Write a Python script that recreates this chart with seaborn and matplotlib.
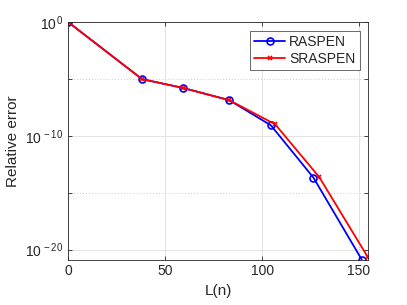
import numpy as np
import pandas as pd
import seaborn as sns
import matplotlib
matplotlib.use("Agg")
import matplotlib.pyplot as plt
from matplotlib.ticker import FixedLocator, FuncFormatter

# values (log10 of relative error)
L_raspen = [0, 38, 59, 83, 104.5, 126.5, 151.4]
err_raspen = [10**0, 10**-5.0, 10**-5.77, 10**-6.85, 10**-9.06, 10**-13.67, 10**-20.87]
L_sraspen = [0, 38, 59, 83, 106.7, 129.4, 154.6]
err_sraspen = [10**0, 10**-5.0, 10**-5.77, 10**-6.85, 10**-8.97, 10**-13.6, 10**-20.67]
x_ticks = [0, 50, 100, 150]
y_major = [1e-20, 1e-10, 1e0]
y_minor = [1e-15, 1e-5]

sns.set_style("ticks")
plt.rcParams["font.family"] = ["Liberation Sans", "DejaVu Sans"]
plt.rcParams["mathtext.fontset"] = "custom"
plt.rcParams["mathtext.rm"] = "Liberation Sans"
plt.rcParams["mathtext.it"] = "Liberation Sans"

df_r = pd.DataFrame({"L": L_raspen, "err": err_raspen})
df_s = pd.DataFrame({"L": L_sraspen, "err": err_sraspen})

fig = plt.figure(figsize=(4.07, 3.05), dpi=100)
ax = fig.add_axes([0.168, 0.149, 0.736, 0.778])

sns.lineplot(data=df_r, x="L", y="err", ax=ax, color="#0000ff", lw=1.3,
             marker="o", markersize=5, markerfacecolor="none",
             markeredgecolor="#0000ff", markeredgewidth=1.2, label="RASPEN",
             sort=False)
sns.lineplot(data=df_s, x="L", y="err", ax=ax, color="#ff0000", lw=1.3,
             marker="x", markersize=3.5, markeredgecolor="#ff0000",
             markeredgewidth=1.2, label="SRASPEN", sort=False)

ax.set_yscale("log")
ax.set_xlim(0, max(L_sraspen))
ax.set_ylim(min(err_raspen), max(err_raspen))

ax.xaxis.set_major_locator(FixedLocator(x_ticks))
ax.yaxis.set_major_locator(FixedLocator(y_major))
ax.yaxis.set_minor_locator(FixedLocator(y_minor))
ax.yaxis.set_major_formatter(FuncFormatter(
    lambda v, p: r"$10^{\,%d}$" % int(round(np.log10(v)))))
ax.yaxis.set_minor_formatter(FuncFormatter(lambda v, p: ""))

ax.grid(True, which="major", color="#e3e3e3", lw=0.7, ls="-")
ax.grid(True, which="minor", axis="y", color="#cccccc", lw=0.7, ls=(0, (1, 2)))
ax.set_axisbelow(True)

for s in ax.spines.values():
    s.set_visible(True)
    s.set_color("#262626")
    s.set_linewidth(0.6)
ax.tick_params(which="both", direction="in", top=True, right=True,
               length=3, width=0.6, color="#262626", labelsize=10,
               labelcolor="#262626")

ax.set_xlabel("L(n)", fontsize=11, color="#262626")
ax.set_ylabel("Relative error", fontsize=11, color="#262626")

leg = ax.legend(loc="upper right", fontsize=10, frameon=True, fancybox=False,
                edgecolor="#262626", borderpad=0.3, handlelength=2.2,
                handletextpad=0.3, labelspacing=0.2, borderaxespad=0.6)
leg.get_frame().set_linewidth(0.6)

fig.savefig("out.png", dpi=100)
